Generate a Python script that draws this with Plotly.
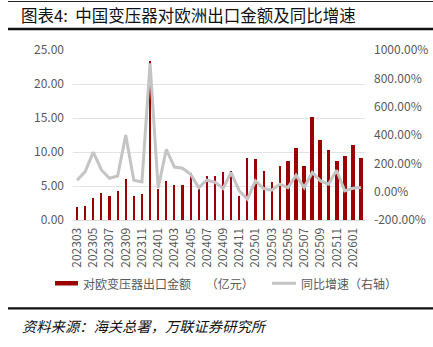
import plotly.graph_objects as go

months = ["202303", "202304", "202305", "202306", "202307", "202308", "202309", "202310",
          "202311", "202312", "202401", "202402", "202403", "202404", "202405", "202406",
          "202407", "202408", "202409", "202410", "202411", "202412", "202501", "202502",
          "202503", "202504", "202505", "202506", "202507", "202508", "202509", "202510",
          "202511", "202512", "202601", "202602"]

export_value = [1.9, 2.0, 3.2, 4.0, 3.5, 4.2, 6.1, 3.5, 3.8, 23.4, 4.6, 5.8,
                5.1, 5.1, 6.9, 4.6, 6.4, 6.5, 7.0, 7.2, 3.6, 9.1, 9.0, 7.2,
                5.6, 7.9, 8.7, 10.6, 8.0, 15.2, 11.7, 10.3, 8.7, 9.4, 11.0, 9.1]

yoy_growth = [81, 142, 279, 153, 95, 111, 399, 81, 69, 905, 25, 298,
              174, 165, 123, 29, 81, 67, 22, 135, 6, -53, 76, 22,
              10, 53, 29, 116, 29, 135, 76, 53, 151, 6, 24, 29]

left_ticks = [0, 5, 10, 15, 20, 25]
right_ticks = [-200, 0, 200, 400, 600, 800, 1000]

title_text = "图表4:  中国变压器对欧洲出口金额及同比增速"
source_text = "资料来源：海关总署，万联证券研究所"
bar_name = "对欧变压器出口金额\u3000 （亿元）"
line_name = "同比增速（右轴）"

W, H = 433, 347
ML, MR, MT, MB = 73, 68, 50, 127
PW = W - ML - MR
PH = H - MT - MB


def px_x(px):
    return (px - ML) / PW


def px_y(py):
    return (H - MB - py) / PH


CJK = "Noto Sans CJK SC"
GRAY = "#595959"
BAR_COLOR = "#9C0000"
LINE_COLOR = "#C4C4C4"

bar_widths = [0.27 if i < 26 else 0.48 for i in range(len(months))]

fig = go.Figure()
fig.add_trace(go.Bar(
    x=months, y=export_value, name=bar_name,
    marker=dict(color=BAR_COLOR, line=dict(width=0)),
    width=bar_widths, yaxis="y", showlegend=False,
))
fig.add_trace(go.Scatter(
    x=months, y=yoy_growth, name=line_name, mode="lines",
    line=dict(color=LINE_COLOR, width=3), yaxis="y2", showlegend=False,
))

fig.update_layout(
    width=W, height=H,
    margin=dict(l=ML, r=MR, t=MT, b=MB, autoexpand=False),
    paper_bgcolor="white", plot_bgcolor="white",
    font=dict(family=CJK, size=12, color=GRAY),
    bargap=0,
    xaxis=dict(
        type="category", range=[-0.5, len(months) - 0.5],
        tickmode="array", tickvals=months[::2], ticktext=months[::2],
        tickangle=-90, tickfont=dict(size=12, color=GRAY, family=CJK),
        showgrid=False, showline=True, linecolor="#D9D9D9", linewidth=1,
        ticks="", ticklabelstandoff=2, automargin=False,
    ),
    yaxis=dict(
        range=[0, 25], tickmode="array", tickvals=left_ticks,
        ticktext=[f"{v:.2f}" for v in left_ticks],
        showgrid=True, gridcolor="#E3E3E3", gridwidth=1, zeroline=False,
        tickfont=dict(size=12, color=GRAY, family=CJK), ticks="",
        ticklabelstandoff=8, automargin=False,
    ),
    yaxis2=dict(
        range=[-200, 1000], overlaying="y", side="right", tickmode="array",
        tickvals=right_ticks, ticktext=[f"{v:.2f}%" for v in right_ticks],
        showgrid=False, zeroline=False,
        tickfont=dict(size=12, color=GRAY, family=CJK), ticks="",
        ticklabelstandoff=8, automargin=False,
    ),
    showlegend=False,
    shapes=[
        dict(type="line", xref="paper", yref="paper", x0=px_x(8), x1=px_x(433),
             y0=px_y(1.5), y1=px_y(1.5), line=dict(color="#222222", width=1)),
        dict(type="line", xref="paper", yref="paper", x0=px_x(8), x1=px_x(433),
             y0=px_y(29), y1=px_y(29), line=dict(color="#111111", width=2.5)),
        dict(type="line", xref="paper", yref="paper", x0=px_x(8), x1=px_x(433),
             y0=px_y(308.3), y1=px_y(308.3), line=dict(color="#111111", width=2.2)),
        # legend keys
        dict(type="rect", xref="paper", yref="paper", x0=px_x(55), x1=px_x(78),
             y0=px_y(285.5), y1=px_y(281), fillcolor=BAR_COLOR, line=dict(width=0)),
        dict(type="line", xref="paper", yref="paper", x0=px_x(272), x1=px_x(296),
             y0=px_y(283.3), y1=px_y(283.3), line=dict(color=LINE_COLOR, width=3)),
    ],
    annotations=[
        dict(text=title_text, xref="paper", yref="paper", x=px_x(19), y=px_y(15),
             xanchor="left", yanchor="middle", showarrow=False,
             font=dict(size=16.5, color="#111111", family=CJK)),
        dict(text=source_text, xref="paper", yref="paper", x=px_x(20), y=px_y(325),
             xanchor="left", yanchor="middle", showarrow=False,
             font=dict(size=14.3, color="#111111", family=CJK, style="italic")),
        dict(text=bar_name, xref="paper", yref="paper", x=px_x(81), y=px_y(283.5),
             xanchor="left", yanchor="middle", showarrow=False,
             font=dict(size=12, color=GRAY, family=CJK)),
        dict(text=line_name, xref="paper", yref="paper", x=px_x(299), y=px_y(283.5),
             xanchor="left", yanchor="middle", showarrow=False,
             font=dict(size=12, color=GRAY, family=CJK)),
    ],
)

fig.write_html("out.html")
